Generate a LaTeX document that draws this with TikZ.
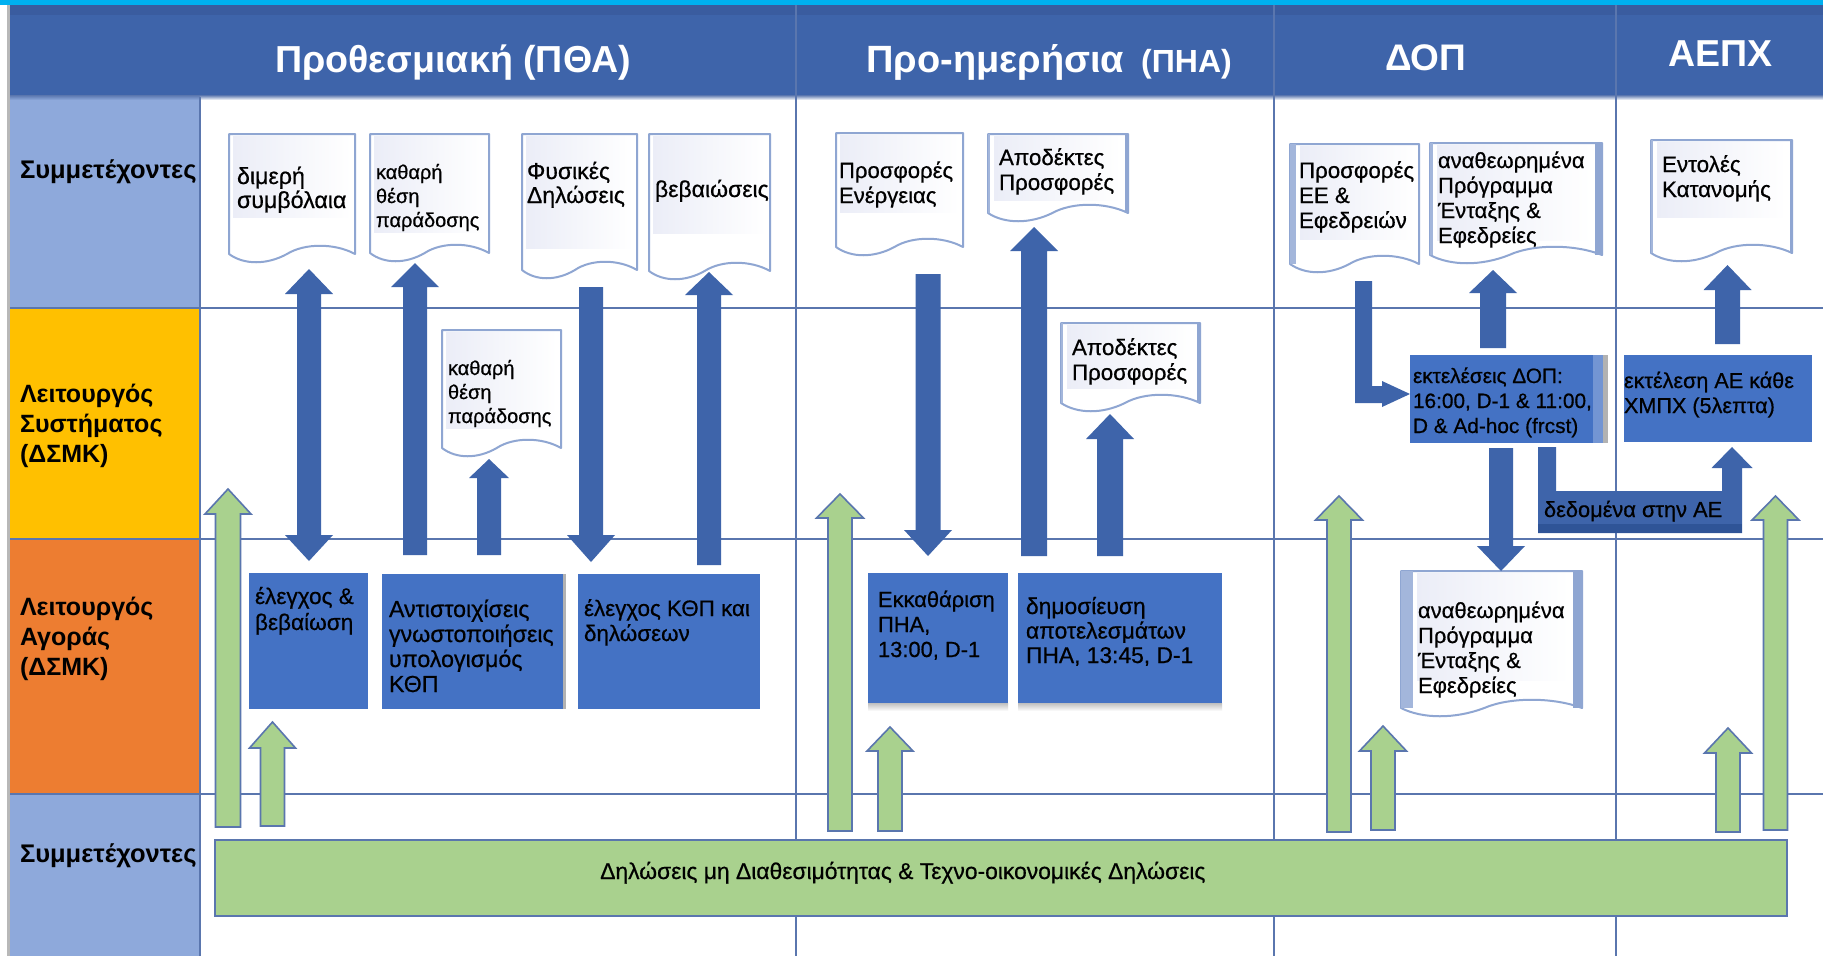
\documentclass[tikz,border=0pt]{standalone}
\usepackage{fontspec}
\setmainfont{Liberation Sans}
\newfontfamily\medfont[FakeBold=0.6]{Liberation Sans}
\usetikzlibrary{calc}
\definecolor{hdr}{HTML}{3E64AA}
\definecolor{hdrtop}{HTML}{3A5C9F}
\definecolor{cyanbar}{HTML}{00B0F0}
\definecolor{gridc}{HTML}{5A76AE}
\definecolor{cellblue}{HTML}{8EA9DB}
\definecolor{cellyel}{HTML}{FFC000}
\definecolor{cellora}{HTML}{ED7D31}
\definecolor{boxblue}{HTML}{4472C4}
\definecolor{arrblue}{HTML}{3E64AA}
\definecolor{arrgreen}{HTML}{A9D18E}
\definecolor{docline}{HTML}{8FA6D2}
\definecolor{docpatch}{HTML}{EBEDF7}
\definecolor{stripc}{HTML}{A3B6DB}
\definecolor{striprun}{HTML}{2F5497}
\tikzset{
 gridline/.style={draw=gridc,line width=2pt},
 bluebox/.style={fill=boxblue,draw=none,inner sep=0pt,outer sep=0pt,anchor=north west},
 darkarrow/.style={fill=arrblue,draw=none},
 greenarrow/.style={fill=arrgreen,draw=gridc,line width=1.6pt,line join=miter},
 docbody/.style={fill=white,draw=docline,line width=2pt,line join=round},
 txt/.style={inner sep=0pt,outer sep=0pt,anchor=north west,align=left,text=black},
}
% text block: name, x, first baseline, size, leading, lines
\newcommand{\tbk}[7][]{%
 \pgfmathsetmacro{\tbky}{#4-0.8*#5}%
 \pgfmathsetmacro{\tbkh}{0.8*#5}%
 \node[txt,font=\fontsize{#5}{#6}\selectfont #1] (#2) at (#3,\tbky) {\rule{0pt}{\tbkh pt}#7};}
% document shape: name, xl, xr, ytop, yb, patch bottom, left strip, right strip
\newcommand{\docu}[8]{%
 \pgfmathsetmacro{\dw}{#3-#2}%
 \pgfmathsetmacro{\cxa}{#2+0.12*\dw}\pgfmathsetmacro{\cxb}{#2+0.30*\dw}%
 \pgfmathsetmacro{\cxm}{#2+0.46*\dw}%
 \pgfmathsetmacro{\cxc}{#2+0.60*\dw}\pgfmathsetmacro{\cxd}{#2+0.84*\dw}%
 \pgfmathsetmacro{\ylo}{#5+11}\pgfmathsetmacro{\yhi}{#5-11}%
 \coordinate (#1-sw) at (#2,#5);\coordinate (#1-se) at (#3,#5);
 \coordinate (#1-nw) at (#2,#4);\coordinate (#1-ne) at (#3,#4);
 \draw[docbody] (#1-nw) -- (#1-ne) -- (#1-se)
   .. controls (\cxd,\yhi) and (\cxc,\yhi) .. (\cxm,#5)
   .. controls (\cxb,\ylo) and (\cxa,\ylo) .. (#1-sw) -- cycle;
 \pgfmathsetmacro{\pxa}{#2+#7+4}\pgfmathsetmacro{\pxb}{#3-#8-4}%
 \pgfmathsetmacro{\pya}{#4+2}%
 \shade[left color=docpatch,right color=white,draw=none] (\pxa,\pya) rectangle (\pxb,#6);
 \ifnum#7>0 \pgfmathsetmacro{\sx}{#2+#7}\fill[stripc] (#2,#4) rectangle (\sx,#5);\fi
 \ifnum#8>0 \pgfmathsetmacro{\sx}{#3-#8}\fill[docline] (\sx,#4) rectangle (#3,#5);\fi
}
% blue box: name, x1, y1, x2, y2
\newcommand{\bbox}[5]{%
 \pgfmathsetmacro{\bw}{#4-#2}\pgfmathsetmacro{\bh}{#5-#3}%
 \node[bluebox,minimum width=\bw pt,minimum height=\bh pt] (#1) at (#2,#3) {};}
% vertical block arrow: name, style, xc, ystart, ytip, shaft half, head half, head base y
\newcommand{\varr}[8]{%
 \coordinate (#1-s) at (#3,#4);\coordinate (#1-t) at (#3,#5);
 \draw[#2] ($(#1-s)+(-#6,0)$) -- ($(#3,#8)+(-#6,0)$) -- ($(#3,#8)+(-#7,0)$) -- (#1-t)
   -- ($(#3,#8)+(#7,0)$) -- ($(#3,#8)+(#6,0)$) -- ($(#1-s)+(#6,0)$) -- cycle;}
\begin{document}
\begin{tikzpicture}[x=1pt,y=-1pt]
\useasboundingbox (0,0) rectangle (1823,956);
\fill[white] (0,0) rectangle (1823,956);
% left margin line
\fill[black!28] (7,0) rectangle (10,956);
% left column cells
\fill[cellblue] (10,95) rectangle (200,308);
\fill[cellyel] (10,308) rectangle (200,539);
\fill[cellora] (10,539) rectangle (200,794);
\fill[cellblue] (10,794) rectangle (200,956);
% header
\fill[hdr] (10,5) rectangle (1823,95);
\fill[hdrtop] (10,5) rectangle (1823,15);
\shade[top color=gridc,bottom color=white,draw=none] (200,95) rectangle (1823,100);
\shade[top color=gridc,bottom color=cellblue,draw=none] (10,95) rectangle (200,100);
\fill[cyanbar] (0,0) rectangle (1823,5);
% grid
\draw[gridline] (10,308) -- (1823,308);
\draw[gridline] (10,539) -- (1823,539);
\draw[gridline] (10,794) -- (1823,794);
\draw[gridline] (200,97) -- (200,956);
\draw[gridline] (796,5) -- (796,956);
\draw[gridline] (1274,5) -- (1274,956);
\draw[gridline] (1616,5) -- (1616,956);
% header text
\node[inner sep=0pt,text=white,font=\fontsize{37.6}{40}\selectfont\bfseries,anchor=base west] (h1) at (275,72) {Προθεσμιακή (ΠΘΑ)};
\node[inner sep=0pt,text=white,font=\fontsize{38}{40}\selectfont\bfseries,anchor=base west] (h2) at (866,72) {Προ-ημερήσια};
\node[inner sep=0pt,text=white,font=\fontsize{32}{40}\selectfont\bfseries,anchor=base west] (h2b) at (1141,72) {(ΠΗΑ)};
\node[inner sep=0pt,text=white,font=\fontsize{37}{40}\selectfont\bfseries,anchor=base west] (h3) at (1385,70) {ΔΟΠ};
\node[inner sep=0pt,text=white,font=\fontsize{37.5}{40}\selectfont\bfseries,anchor=base west] (h4) at (1668,66) {ΑΕΠΧ};
% row labels
\tbk[\bfseries]{r1}{20}{178}{25.5}{29}{Συμμετέχοντες}
\tbk[\bfseries]{r2}{20}{402}{25}{30}{Λειτουργός\\Συστήματος\\(ΔΣΜΚ)}
\tbk[\bfseries]{r3}{20}{615}{25}{30}{Λειτουργός\\Αγοράς\\(ΔΣΜΚ)}
\tbk[\bfseries]{r4}{20}{862}{25.5}{29}{Συμμετέχοντες}
% green bar
\fill[arrgreen,draw=gridc,line width=1.6pt] (215,840) rectangle (1787,916);
\node[inner sep=0pt,text=black,font=\fontsize{22.85}{25}\selectfont\medfont,anchor=base west] (gb) at (600,879) {Δηλώσεις μη Διαθεσιμότητας \& Τεχνο-οικονομικές Δηλώσεις};
% documents
\docu{d1}{229}{355}{134}{254}{217}{0}{0}
\docu{d2}{370}{489}{134}{253}{232}{0}{0}
\docu{d3}{522}{637}{134}{270}{248}{0}{0}
\docu{d4}{649}{770}{134}{271}{233}{0}{0}
\docu{d5}{442}{561}{330}{448}{428}{0}{0}
\docu{d6}{836}{963}{133}{247}{212}{0}{0}
\docu{d7}{988}{1128}{134}{213}{200}{2}{3}
\docu{d8}{1061}{1200}{323}{403}{388}{2}{3}
\docu{d9}{1290}{1419}{144}{264}{239}{6}{0}
\docu{d10}{1430}{1602}{143}{255}{240}{3}{7}
\docu{d11}{1651}{1792}{140}{253}{217}{2}{2}
\docu{d12}{1401}{1582}{571}{708}{680}{12}{9}
% document text
\tbk[\medfont]{td1}{237}{184}{23.2}{24}{διμερή\\συμβόλαια}
\tbk[\medfont]{td2}{376}{179}{20}{24}{καθαρή\\θέση\\παράδοσης}
\tbk[\medfont]{td3}{527}{179}{23}{24}{Φυσικές\\Δηλώσεις}
\tbk[\medfont]{td4}{655}{197}{23}{24}{βεβαιώσεις}
\tbk[\medfont]{td5}{448}{375}{20}{24}{καθαρή\\θέση\\παράδοσης}
\tbk[\medfont]{td6}{839}{178}{22.1}{25}{Προσφορές\\Ενέργειας}
\tbk[\medfont]{td7}{999}{165}{22.3}{25}{Αποδέκτες\\Προσφορές}
\tbk[\medfont]{td8}{1072}{355}{22.3}{25}{Αποδέκτες\\Προσφορές}
\tbk[\medfont]{td9}{1299}{178}{22.3}{25}{Προσφορές\\ΕΕ \&\\Εφεδρειών}
\tbk[\medfont]{td10}{1438}{168}{22}{25}{αναθεωρημένα\\Πρόγραμμα\\Ένταξης \&\\Εφεδρείες}
\tbk[\medfont]{td11}{1662}{172}{22.4}{25}{Εντολές\\Κατανομής}
\tbk[\medfont]{td12}{1418}{618}{22}{25}{αναθεωρημένα\\Πρόγραμμα\\Ένταξης \&\\Εφεδρείες}
% blue boxes
\bbox{b1}{249}{573}{368}{709}
\bbox{b2}{382}{574}{563}{709}
\fill[black!30] (563,574) rectangle (566,709);
\bbox{b3}{578}{574}{760}{709}
\bbox{b4}{868}{573}{1008}{703}
\shade[top color=black!25,bottom color=white,draw=none] (868,703) rectangle (1008,711);
\bbox{b5}{1018}{573}{1222}{703}
\shade[top color=black!25,bottom color=white,draw=none] (1018,703) rectangle (1222,711);
\bbox{b6}{1410}{355}{1593}{443}
\fill[boxblue!75!white] (1593,355) rectangle (1603,443);
\fill[black!30] (1603,355) rectangle (1608,443);
\bbox{b7}{1624}{355}{1812}{442}
% dark arrows
\draw[darkarrow] (297,294) -- (285,294) -- (309,269) -- (333,294) -- (321,294)
  -- (321,535) -- (333,535) -- (309,561) -- (285,535) -- (297,535) -- cycle;
\varr{a2}{darkarrow}{415}{555}{263}{12}{24}{287}
\varr{a3}{darkarrow}{489}{555}{459}{12}{20}{478}
\varr{a4}{darkarrow}{591}{287}{562}{12}{24}{535}
\varr{a5}{darkarrow}{709}{565}{272}{12}{24}{295}
\varr{a6}{darkarrow}{928}{274}{556}{12.5}{24}{530}
\varr{a7}{darkarrow}{1034}{556}{227}{13}{24}{251}
\varr{a8}{darkarrow}{1110}{556}{414}{13}{24}{439}
\draw[darkarrow] (1355,281) -- (1372,281) -- (1372,386) -- (1382,386) -- (1382,381)
  -- (1410,394) -- (1382,407) -- (1382,403) -- (1355,403) -- cycle;
\varr{a10}{darkarrow}{1493}{348}{270}{13}{24}{293}
\varr{a11}{darkarrow}{1727.5}{344}{265}{12.5}{24}{290}
\varr{a12}{darkarrow}{1501}{448}{571}{12}{24}{546}
\draw[darkarrow] (1538,447) -- (1556,447) -- (1556,491) -- (1722,491) -- (1722,468)
  -- (1711.5,468) -- (1732,447) -- (1752.5,468) -- (1742,468) -- (1742,533) -- (1538,533) -- cycle;
\fill[striprun] (1538,524) rectangle (1742,533);
% box text
\tbk[\medfont]{tb1}{255}{604}{22.6}{26}{έλεγχος \&\\βεβαίωση}
\tbk[\medfont]{tb2}{389}{617}{23.2}{25}{Αντιστοιχίσεις\\γνωστοποιήσεις\\υπολογισμός\\ΚΘΠ}
\tbk[\medfont]{tb3}{584}{616}{22.4}{25}{έλεγχος ΚΘΠ και\\δηλώσεων}
\tbk[\medfont]{tb4}{878}{607}{21.9}{25}{Εκκαθάριση\\ΠΗΑ,\\13:00, D-1}
\tbk[\medfont]{tb5}{1026}{614}{22.8}{24.5}{δημοσίευση\\αποτελεσμάτων\\ΠΗΑ, 13:45, D-1}
\tbk[\medfont]{tb6}{1413}{383}{20.8}{25}{εκτελέσεις ΔΟΠ:\\16:00, D-1 \& 11:00,\\D \& Ad-hoc (frcst)}
\tbk[\medfont]{tb7}{1624}{388}{21.6}{25}{εκτέλεση ΑΕ κάθε\\ΧΜΠΧ (5λεπτα)}
\tbk[\medfont]{tl}{1544}{517}{21.8}{25}{δεδομένα στην ΑΕ}
% green arrows
\varr{g1}{greenarrow}{228}{827}{489}{12.5}{23}{514}
\varr{g2}{greenarrow}{272.5}{826}{722}{12}{23}{748}
\varr{g3}{greenarrow}{840}{831}{494}{12}{23.5}{518}
\varr{g4}{greenarrow}{890}{831}{727}{12}{23}{751}
\varr{g5}{greenarrow}{1339}{832}{496}{12}{23.5}{520}
\varr{g6}{greenarrow}{1383}{830}{726}{12}{23.5}{751}
\varr{g7}{greenarrow}{1728}{832}{728}{12}{23.5}{753}
\varr{g8}{greenarrow}{1775.5}{830}{496}{12}{23.5}{520}
\end{tikzpicture}
\end{document}
